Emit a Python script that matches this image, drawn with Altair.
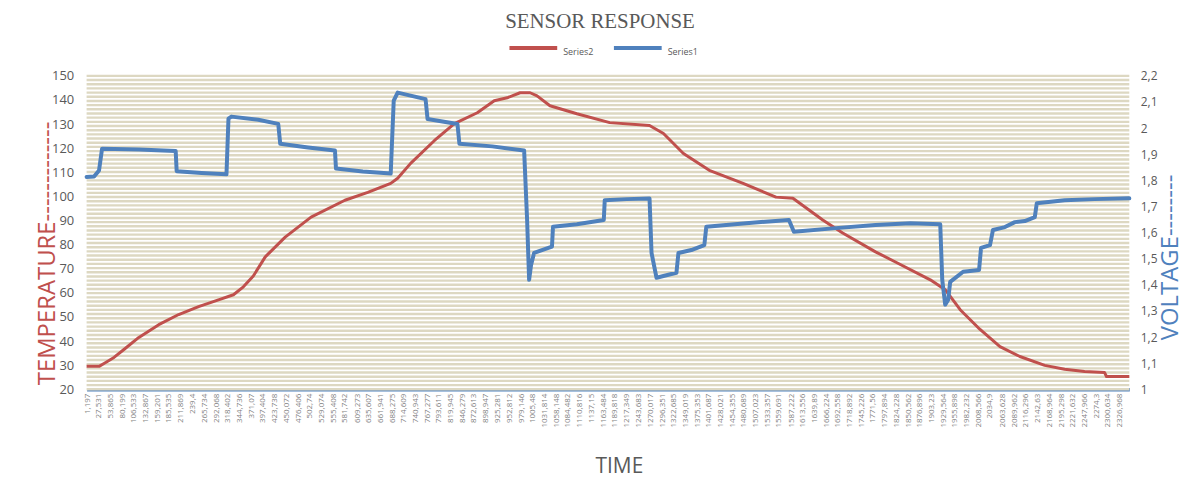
import altair as alt
import pandas as pd

RED = "#C0504D"
BLUE = "#4F81BD"
TAN = "#DDD8C2"
GRAY = "#595959"

# Series2 (temperature, left axis)
temp_time = [0, 28.0, 39.2, 61.7, 84.1, 117.7, 162.6, 207.4, 252.3, 297.1, 330.8, 353.2,
             375.6, 402.5, 447.4, 505.7, 581.9, 633.5, 685.1, 700.8, 730.0, 783.8, 828.6,
             880.2, 918.3, 947.5, 976.6, 999.1, 1014.8, 1043.9, 1104.5, 1178.5, 1268.2,
             1299.6, 1344.5, 1402.8, 1479.0, 1553.0, 1591.2, 1658.4, 1703.3, 1777.3,
             1822.2, 1900.7, 1934.3, 1968.0, 2012.8, 2057.7, 2102.5, 2158.6, 2203.4,
             2248.3, 2293.1, 2297.6, 2349.0]
temp_vals = [29.5, 29.5, 30.7, 33.2, 36.5, 41.5, 46.8, 51.0, 54.3, 57.1, 59.2, 62.5,
             67.0, 74.9, 83.1, 91.4, 98.4, 101.7, 105.4, 107.5, 113.7, 123.2, 130.2,
             134.7, 139.7, 140.9, 143.0, 143.0, 141.7, 137.6, 134.3, 130.6, 129.4,
             126.1, 117.8, 110.8, 105.4, 99.7, 99.2, 90.2, 84.8, 77.0,
             72.8, 65.4, 61.3, 53.0, 44.8, 37.7, 33.6, 29.9, 28.3,
             27.4, 27.0, 25.3, 25.3]

# Series1 (voltage, right axis)
volt_time = [0, 16.8, 28.0, 34.8, 117.7, 200.7, 202.9, 259.0, 315.1, 319.6, 326.3, 386.9,
             431.7, 436.2, 499.0, 559.5, 561.8, 622.3, 685.1, 691.9, 700.8, 763.6, 768.1,
             835.4, 839.9, 913.9, 985.7, 992.4, 996.9, 1001.3, 1008.1, 1048.4, 1050.7,
             1104.5, 1165.1, 1167.3, 1216.7, 1268.2, 1272.7, 1283.9, 1328.8, 1333.3,
             1362.4, 1391.6, 1396.1, 1485.8, 1582.2, 1593.4, 1687.6, 1777.3, 1855.8,
             1923.1, 1927.6, 1934.3, 1941.0, 1945.5, 1974.7, 2010.6, 2015.0, 2035.2,
             2041.9, 2068.8, 2091.2, 2113.7, 2136.1, 2140.6, 2203.4, 2270.7, 2349.0]
volt_vals = [1.813, 1.815, 1.838, 1.921, 1.918, 1.912, 1.835, 1.828, 1.823, 2.036, 2.044, 2.032,
             2.016, 1.940, 1.926, 1.914, 1.845, 1.834, 1.826, 2.105, 2.136, 2.111, 2.035,
             2.016, 1.940, 1.930, 1.914, 1.648, 1.419, 1.476, 1.522, 1.546, 1.622,
             1.632, 1.648, 1.724, 1.728, 1.730, 1.522, 1.427, 1.446, 1.522,
             1.533, 1.552, 1.622, 1.636, 1.648, 1.603, 1.617, 1.629, 1.636,
             1.632, 1.419, 1.324, 1.343, 1.411, 1.450, 1.457, 1.541, 1.552,
             1.610, 1.621, 1.640, 1.644, 1.659, 1.712, 1.724, 1.728, 1.731]

x_labels = [1.197, 27.531, 53.865, 80.199, 106.533, 132.867, 159.201, 185.535, 211.869,
            239.4, 265.734, 292.068, 318.402, 344.736, 371.07, 397.404, 423.738, 450.072,
            476.406, 502.74, 529.074, 555.408, 581.742, 609.273, 635.607, 661.941, 688.275,
            714.609, 740.943, 767.277, 793.611, 819.945, 846.279, 872.613, 898.947, 925.281,
            952.812, 979.146, 1005.48, 1031.814, 1058.148, 1084.482, 1110.816, 1137.15,
            1163.484, 1189.818, 1217.349, 1243.683, 1270.017, 1296.351, 1322.685, 1349.019,
            1375.353, 1401.687, 1428.021, 1454.355, 1480.689, 1507.023, 1533.357, 1559.691,
            1587.222, 1613.556, 1639.89, 1666.224, 1692.558, 1718.892, 1745.226, 1771.56,
            1797.894, 1824.228, 1850.562, 1876.896, 1903.23, 1929.564, 1955.898, 1982.232,
            2008.566, 2034.9, 2063.628, 2089.962, 2116.296, 2142.63, 2168.964, 2195.298,
            2221.632, 2247.966, 2274.3, 2300.634, 2326.968]

temp_ticks = [20, 30, 40, 50, 60, 70, 80, 90, 100, 110, 120, 130, 140, 150]
volt_ticks = [1.0, 1.1, 1.2, 1.3, 1.4, 1.5, 1.6, 1.7, 1.8, 1.9, 2.0, 2.1, 2.2]
series_names = ["Series2", "Series1"]

# dense background stripes (styling)
n_grid = 75
grid_vals = [20 + 130 * i / n_grid for i in range(n_grid + 1)]

df_t = pd.DataFrame({"t": temp_time, "v": temp_vals, "s": "Series2"})
df_v = pd.DataFrame({"t": volt_time, "v": volt_vals, "s": "Series1"})
df_g = pd.DataFrame({"v": grid_vals})

x_scale = alt.Scale(domain=[0, 2349], nice=False, zero=False)
t_scale = alt.Scale(domain=[20, 150], nice=False, zero=False)
v_scale = alt.Scale(domain=[1.0, 2.2], nice=False, zero=False)
c_scale = alt.Scale(domain=series_names, range=[RED, BLUE])

legend = alt.Legend(
    orient="none", legendX=423, legendY=-54, direction="horizontal", title=None,
    symbolType="stroke", symbolSize=2304, symbolStrokeWidth=4,
    labelFontSize=9, labelColor=GRAY, labelFont="Open Sans", labelOffset=4,
    columnPadding=12, labelBaseline="top",
)

x_axis = alt.Axis(
    values=x_labels, labelExpr="replace(toString(datum.value), '.', ',')",
    labelAngle=270, labelFontSize=8, labelColor="#7f7f7f", labelFont="Open Sans",
    labelOverlap=False, labelFlush=False, labelPadding=4, ticks=False, grid=False,
    domainColor=BLUE, domainWidth=3.5,
    title="TIME", titleFontSize=21, titleFont="Liberation Sans Narrow, Open Sans",
    titleFontWeight="normal", titleColor=GRAY, titleX=535, titleY=78,
    titleBaseline="middle", titleAlign="center",
)

t_axis = alt.Axis(
    values=temp_ticks, orient="left", grid=False, ticks=False, domain=False,
    labelFontSize=13, labelColor=GRAY, labelFont="Open Sans", labelPadding=13,
    title="TEMPERATURE-------------", titleColor=RED, titleFontSize=24,
    titleFont="Open Sans", titleFontWeight="normal", titleAngle=270,
    titleX=-39, titleY=178, titleAlign="center", titleBaseline="middle",
)

grid = alt.Chart(df_g).mark_rule(color=TAN, strokeWidth=2.4).encode(
    y=alt.Y("v:Q", scale=t_scale, axis=t_axis)
)

red = alt.Chart(df_t).mark_line(strokeWidth=3, strokeJoin="round").encode(
    x=alt.X("t:Q", scale=x_scale, axis=x_axis),
    y=alt.Y("v:Q", scale=t_scale, axis=t_axis),
    color=alt.Color("s:N", scale=c_scale, legend=legend),
)

blue = alt.Chart(df_v).mark_line(strokeWidth=4, strokeJoin="round", strokeCap="round").encode(
    x=alt.X("t:Q", scale=x_scale, axis=x_axis),
    y=alt.Y("v:Q", scale=v_scale, axis=alt.Axis(
        values=volt_ticks, orient="right", grid=False, ticks=False, domain=False,
        labelExpr="replace(toString(round(datum.value*10)/10), '.', ',')",
        labelFontSize=12, labelColor=GRAY, labelFont="Open Sans", labelPadding=11,
        title="VOLTAGE--------", titleColor=BLUE, titleFontSize=24,
        titleFont="Open Sans", titleFontWeight="normal", titleAngle=270,
        titleX=48, titleY=182, titleAlign="center", titleBaseline="alphabetic",
    )),
    color=alt.Color("s:N", scale=c_scale, legend=legend),
)

chart = alt.layer(alt.layer(grid, red), blue).resolve_scale(y="independent").properties(
    width=1048, height=315,
    autosize=alt.AutoSizeParams(type="none"),
    padding={"left": 79, "top": 67, "right": 58, "bottom": 92},
    title=alt.Title("SENSOR RESPONSE", fontSize=21, font="Liberation Serif",
                    color=GRAY, fontWeight="normal", anchor="middle", offset=8,
                    dx=-8, dy=18),
).configure_view(stroke=None)

chart.save("out.html", embed_options={"renderer": "svg", "actions": False})
